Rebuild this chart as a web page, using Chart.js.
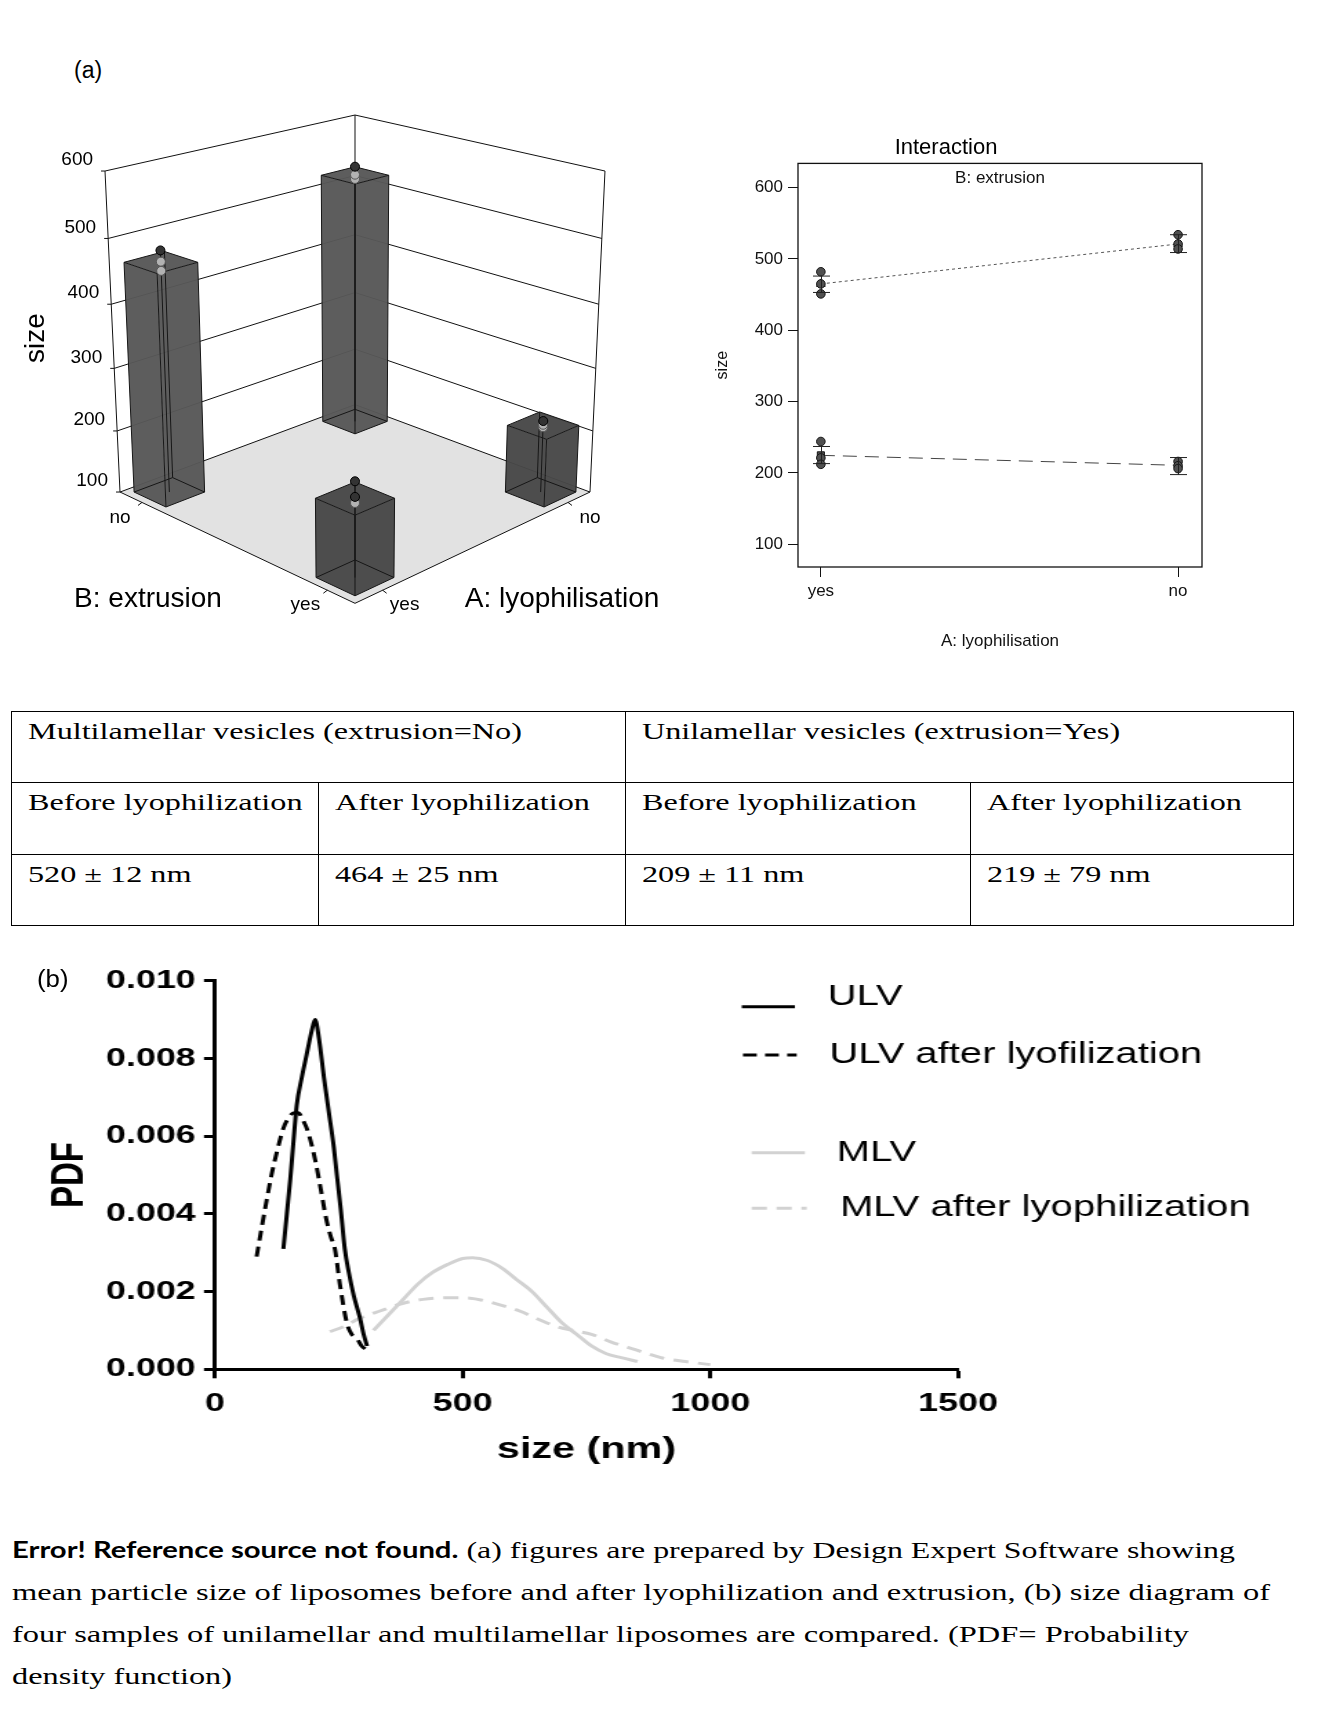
<!DOCTYPE html>
<html><head><meta charset="utf-8">
<script src="https://cdn.jsdelivr.net/npm/chart.js@4.4.0/dist/chart.umd.min.js"></script>
<style>
body{margin:0;background:#fff;}
#page{position:relative;width:1340px;height:1712px;overflow:hidden;background:#fff;font-family:"Liberation Sans",Arial,sans-serif;color:#000;}
canvas{position:absolute;}
.abs{position:absolute;white-space:nowrap;}
.fit{display:inline-block;transform-origin:0 50%;white-space:nowrap;}
#tbl{position:absolute;left:11px;top:711px;width:1282px;border-collapse:collapse;table-layout:fixed;font-family:"Liberation Serif","Times New Roman",serif;font-size:23px;}
#tbl td{border:1.5px solid #000;vertical-align:top;padding:7px 0 0 16px;line-height:26px;overflow:visible;white-space:nowrap;}
#tbl td span{display:inline-block;transform:scaleX(1.40);transform-origin:0 50%;}
.cap{position:absolute;left:12px;font-family:"Liberation Serif","Times New Roman",serif;font-size:24px;line-height:28px;}
.cap b{font-family:Lato,"Open Sans",sans-serif;font-weight:bold;font-size:22px;}
</style></head><body><div id="page">
<div class="abs" style="left:74px;top:57px;font-size:23px;">(a)</div>
<canvas id="c3d" width="700" height="660" style="left:0;top:0;"></canvas>
<canvas id="cint" width="620" height="545" style="left:690px;top:110px;"></canvas>
<table id="tbl"><colgroup><col style="width:307px"><col style="width:307px"><col style="width:345px"><col style="width:323px"></colgroup>
<tbody id="tbody"></tbody></table>
<div id="bwrap" style="position:absolute;left:0;top:950px;width:920px;height:525px;transform:scaleX(1.38);transform-origin:0 0;">
<canvas id="cpdf" width="920" height="525" style="left:0;top:0;"></canvas></div>
<div class="abs" style="left:37px;top:966px;font-size:23px;"><span class="fit" style="transform:scaleX(1.12)">(b)</span></div>
<div class="cap" style="top:1536px;"><span class="fit" data-w="1223"><b>Error! Reference source not found.</b> (a) figures are prepared by Design Expert Software showing</span></div>
<div class="cap" style="top:1578px;"><span class="fit" data-w="1258">mean particle size of liposomes before and after lyophilization and extrusion, (b) size diagram of</span></div>
<div class="cap" style="top:1620px;"><span class="fit" data-w="1177">four samples of unilamellar and multilamellar liposomes are compared. (PDF= Probability</span></div>
<div class="cap" style="top:1662px;"><span class="fit" data-w="220">density function)</span></div>
</div>
<script>
// ================= DATA =================
// factor levels
const factorA = ['yes', 'no'];            // A: lyophilisation
const factorB = ['yes', 'no'];            // B: extrusion
// 3D bar chart cells
const cellA = ['no', 'yes', 'no', 'yes'];
const cellB = ['no', 'no', 'yes', 'yes'];
const cellSize = [520, 464, 209, 219];
const cellObs = [[534, 521, 514], [482, 465, 451], [216, 210, 206], [244, 221, 212]];
const sizeTicks3d = [100, 200, 300, 400, 500, 600];
// interaction plot (x: A level, series: B level)
const intX = [0, 1];
const meanExtNo = [465, 521];       // B: extrusion = no
const meanExtYes = [224.6, 210.6];  // B: extrusion = yes
const obsExtNo = [[482, 465, 451], [534, 521, 514]];
const obsExtYes = [[244, 221, 212], [216, 210, 206]];
const lsdExtNo = [[453, 476], [509, 534]];
const lsdExtYes = [[213, 237], [197.6, 221.5]];
const intYTicks = [100, 200, 300, 400, 500, 600];
// table
const tblHead1 = ['Multilamellar vesicles (extrusion=No)', 'Unilamellar vesicles (extrusion=Yes)'];
const tblHead2 = ['Before lyophilization', 'After lyophilization', 'Before lyophilization', 'After lyophilization'];
const tblVals = ['520 \u00b1 12 nm', '464 \u00b1 25 nm', '209 \u00b1 11 nm', '219 \u00b1 79 nm'];
// PDF chart (b)
const ulvX = [138,145,152,158,165,175,185,195,202,210,220,230,240,246,254,262,270,280,293,300,307];
const ulvY = [.0031,.0040,.0049,.0058,.0068,.0075,.0081,.0087,.0090,.0085,.0075,.0066,.0057,.0050,.0041,.0031,.0025,.0019,.0013,.0009,.0006];
const ulvLyoX = [84,95,105,114,125,138,150,160,168,178,188,202,214,224,234,242,252,266,276,286,296,306];
const ulvLyoY = [.0029,.0037,.0044,.0050,.0056,.0062,.0065,.0066,.0066,.0064,.0061,.0054,.0046,.0039,.0034,.0031,.0022,.0012,.0009,.0008,.0006,.0005];
const mlvX = [320,350,380,410,440,470,500,520,550,580,610,640,670,700,730,760,790,820,853];
const mlvY = [.0010,.0014,.0018,.0022,.0025,.0027,.00285,.00287,.0028,.0026,.0023,.0020,.0016,.0012,.0009,.0006,.0004,.0003,.0002];
const mlvLyoX = [232,260,290,333,380,420,470,515,545,575,615,656,690,723,760,800,850,900,950,1000];
const mlvLyoY = [.00097,.0011,.0013,.0015,.0017,.0018,.00184,.00183,.00176,.00166,.0015,.00127,.0011,.0010,.0009,.0007,.0005,.0003,.0002,.00012];
const pdfSeries = ['ULV', 'ULV after lyofilization', 'MLV', 'MLV after lyophilization'];
const pdfYTicks = [0, 0.002, 0.004, 0.006, 0.008, 0.010];
const sizeTicks = [0, 500, 1000, 1500];

// ================= TABLE =================
(function(){
  const tb = document.getElementById('tbody');
  let r = '<tr style="height:71px">' + tblHead1.map(t => '<td colspan="2"><span>' + t + '</span></td>').join('') + '</tr>';
  r += '<tr style="height:72px">' + tblHead2.map(t => '<td><span>' + t + '</span></td>').join('') + '</tr>';
  r += '<tr style="height:71px">' + tblVals.map(t => '<td><span>' + t + '</span></td>').join('') + '</tr>';
  tb.innerHTML = r;
})();
document.querySelectorAll('.fit[data-w]').forEach(el => {
  const w = el.getBoundingClientRect().width;
  el.style.transform = 'scaleX(' + (parseFloat(el.dataset.w) / w) + ')';
});

Chart.defaults.font.family = '"Liberation Sans", Arial, sans-serif';
Chart.defaults.color = '#000';

// ================= (a) 3D BAR =================
const CAM = {A0: 11.096, B0: -0.9667, C: 0.9424, S: 0.3346, F: 1843.8, CX: 355, CY: 331.4, ZT: 1.9885};
const POS = 0.79, HW = 0.15;
function proj(X, Y, Z) {
  const s = -(X + Y) / Math.SQRT2, t = (X - Y) / Math.SQRT2;
  const depth = CAM.A0 - s * CAM.C - Z * CAM.S;
  const yc = CAM.B0 - s * CAM.S + Z * CAM.C;
  return [CAM.CX + CAM.F * t / depth, CAM.CY - CAM.F * yc / depth];
}
const levelPos = (lv) => lv === 'yes' ? -POS : POS;
const threeD = {
  id: 'threeD',
  afterDraw(chart) {
    const ctx = chart.ctx, ys = chart.scales.y;
    const p0 = ys.getPixelForValue(ys.min), p1 = ys.getPixelForValue(ys.max);
    const zOf = v => (p0 - ys.getPixelForValue(v)) / (p0 - p1) * CAM.ZT;
    const line = (a, b) => { ctx.beginPath(); ctx.moveTo(a[0], a[1]); ctx.lineTo(b[0], b[1]); ctx.stroke(); };
    const poly = (pts, fill) => { ctx.beginPath(); pts.forEach((p, i) => i ? ctx.lineTo(p[0], p[1]) : ctx.moveTo(p[0], p[1])); ctx.closePath(); ctx.fillStyle = fill; ctx.fill(); };
    ctx.save();
    // floor
    poly([proj(-1,-1,0), proj(1,-1,0), proj(1,1,0), proj(-1,1,0)], '#e2e2e2');
    ctx.strokeStyle = '#111'; ctx.lineWidth = 1;
    // wall grid lines
    sizeTicks3d.forEach(v => { const z = zOf(v); line(proj(-1,1,z), proj(1,1,z)); line(proj(1,1,z), proj(1,-1,z)); });
    line(proj(-1,1,0), proj(-1,1,CAM.ZT)); line(proj(1,1,0), proj(1,1,CAM.ZT)); line(proj(1,-1,0), proj(1,-1,CAM.ZT));
    line(proj(-1,1,0), proj(-1,-1,0)); line(proj(-1,-1,0), proj(1,-1,0));
    // axis ticks and labels
    ctx.fillStyle = '#000'; ctx.font = '19px "Liberation Sans", Arial, sans-serif';
    ctx.textAlign = 'right'; ctx.textBaseline = 'middle';
    sizeTicks3d.forEach(v => { const p = proj(-1,1,zOf(v)); line(p, [p[0]-4, p[1]]); ctx.fillText(String(v), p[0]-12, p[1]-11); });
    ctx.textAlign = 'center';
    factorB.forEach(lv => { const p = proj(-1, levelPos(lv), 0); line(p, [p[0]-4, p[1]+3]); ctx.fillText(lv, p[0]-22, p[1]+15); });
    factorA.forEach(lv => { const p = proj(levelPos(lv), -1, 0); line(p, [p[0]+4, p[1]+3]); ctx.fillText(lv, p[0]+22, p[1]+15); });
    ctx.font = '28px "Liberation Sans", Arial, sans-serif';
    ctx.fillText('B: extrusion', 148, 599);
    ctx.fillText('A: lyophilisation', 562, 599);
    ctx.save(); ctx.translate(36, 338); ctx.rotate(-Math.PI/2); ctx.fillText('size', 0, 0); ctx.restore();
    // bars, back to front
    const idx = cellSize.map((v, i) => i).sort((a, b) => (levelPos(cellA[b]) + levelPos(cellB[b])) - (levelPos(cellA[a]) + levelPos(cellB[a])));
    idx.forEach(i => {
      const X = levelPos(cellA[i]), Y = levelPos(cellB[i]);
      const X0 = X - HW, X1 = X + HW, Y0 = Y - HW, Y1 = Y + HW, zt = zOf(cellSize[i]);
      const col = cellB[i] === 'no' ? 'rgba(88,88,88,0.97)' : 'rgba(72,72,72,0.97)';
      poly([proj(X0,Y0,0), proj(X0,Y1,0), proj(X0,Y1,zt), proj(X0,Y0,zt)], col);
      poly([proj(X0,Y0,0), proj(X1,Y0,0), proj(X1,Y0,zt), proj(X0,Y0,zt)], col);
      poly([proj(X0,Y0,zt), proj(X1,Y0,zt), proj(X1,Y1,zt), proj(X0,Y1,zt)], col);
      ctx.strokeStyle = '#161616'; ctx.lineWidth = 1;
      [[X0,Y0],[X1,Y0],[X1,Y1],[X0,Y1]].forEach((c, k, arr) => {
        const n = arr[(k+1) % 4];
        line(proj(c[0],c[1],0), proj(n[0],n[1],0));
        line(proj(c[0],c[1],zt), proj(n[0],n[1],zt));
        line(proj(c[0],c[1],0), proj(c[0],c[1],zt));
      });
      const obs = cellObs[i];
      line(proj(X, Y, zOf(Math.max(...obs))), proj(X, Y, 0));
      obs.slice().sort((a, b) => a - b).forEach(v => {
        const p = proj(X, Y, zOf(v));
        ctx.beginPath(); ctx.arc(p[0], p[1], 4.5, 0, Math.PI*2);
        const above = v > cellSize[i] + 1;
        ctx.fillStyle = above ? '#333' : '#b2b2b2'; ctx.fill();
        ctx.strokeStyle = above ? '#000' : '#555'; ctx.stroke();
      });
    });
    ctx.restore();
  }
};
new Chart(document.getElementById('c3d'), {
  type: 'scatter',
  data: {datasets: [{data: cellSize.map((v, i) => ({x: i, y: v})), pointRadius: 0}]},
  options: {
    responsive: false, animation: false, events: [],
    layout: {padding: {left: 100, right: 100, top: 171, bottom: 168}},
    plugins: {legend: {display: false}, tooltip: {enabled: false}},
    scales: {
      x: {type: 'linear', display: false, min: -1, max: 4},
      y: {min: 100, max: 600, ticks: {display: false, stepSize: 100}, grid: {display: false}, border: {display: false}}
    }
  },
  plugins: [threeD]
});

// ================= (a) INTERACTION =================
const flat = (arr) => arr.flatMap((vals, i) => vals.map(v => ({x: intX[i], y: v})));
const lsdPlugin = {
  id: 'lsd',
  afterDatasetsDraw(chart) {
    const ctx = chart.ctx, xs = chart.scales.x, ys = chart.scales.y, a = chart.chartArea;
    ctx.save();
    ctx.strokeStyle = '#222'; ctx.lineWidth = 1;
    [lsdExtNo, lsdExtYes].forEach(set => set.forEach((r, i) => {
      const x = Math.round(xs.getPixelForValue(intX[i])) + 0.5;
      const y0 = ys.getPixelForValue(r[0]), y1 = ys.getPixelForValue(r[1]);
      ctx.beginPath(); ctx.moveTo(x, y0); ctx.lineTo(x, y1);
      ctx.moveTo(x-8.5, y0); ctx.lineTo(x+8.5, y0); ctx.moveTo(x-8.5, y1); ctx.lineTo(x+8.5, y1); ctx.stroke();
    }));
    ctx.strokeStyle = '#111'; ctx.lineWidth = 1.3;
    ctx.strokeRect(a.left, a.top, a.right - a.left, a.bottom - a.top);
    ctx.fillStyle = '#111'; ctx.font = '17px "Liberation Sans", Arial, sans-serif';
    ctx.textAlign = 'center'; ctx.textBaseline = 'middle';
    ctx.fillText('B: extrusion', (a.left + a.right) / 2, a.top + 15);
    ctx.restore();
  }
};
new Chart(document.getElementById('cint'), {
  type: 'scatter',
  data: {datasets: [
    {data: flat(obsExtNo).concat(flat(obsExtYes)), pointRadius: 4.3, pointBackgroundColor: '#505050', pointBorderColor: '#151515', pointBorderWidth: 1, showLine: false, order: 0},
    {data: intX.map((x, i) => ({x, y: meanExtNo[i]})), pointStyle: 'triangle', pointRadius: 5, pointBackgroundColor: '#505050', pointBorderColor: '#151515', showLine: false, order: 1},
    {data: intX.map((x, i) => ({x, y: meanExtYes[i]})), pointStyle: 'rect', pointRadius: 5, pointBackgroundColor: '#505050', pointBorderColor: '#151515', showLine: false, order: 1},
    {data: intX.map((x, i) => ({x, y: meanExtNo[i]})), showLine: true, borderColor: '#555', borderWidth: 1, borderDash: [3, 3], pointRadius: 0, order: 2},
    {data: intX.map((x, i) => ({x, y: meanExtYes[i]})), showLine: true, borderColor: '#444', borderWidth: 1, borderDash: [14, 8], pointRadius: 0, order: 2}
  ]},
  options: {
    responsive: false, animation: false, events: [],
    layout: {padding: {left: 0, right: 108, top: 0, bottom: 3}},
    plugins: {legend: {display: false}, tooltip: {enabled: false},
      title: {display: true, text: 'Interaction', color: '#000', font: {size: 22, weight: 'normal'}, padding: {top: 25, bottom: 2}}},
    scales: {
      x: {type: 'linear', min: -0.064, max: 1.067,
        afterBuildTicks: s => { s.ticks = intX.map(v => ({value: v})); },
        ticks: {callback: (v, i) => factorA[i], font: {size: 17}, color: '#111', padding: 4, maxRotation: 0, autoSkip: false},
        grid: {drawOnChartArea: false, drawTicks: true, tickLength: 10, color: '#111'}, border: {display: false},
        title: {display: true, text: 'A: lyophilisation', color: '#111', font: {size: 17}, padding: {top: 0, bottom: 0}},
        afterFit: s => { s.height = 85; }},
      y: {min: 68, max: 634,
        afterBuildTicks: s => { s.ticks = intYTicks.map(v => ({value: v})); },
        ticks: {font: {size: 17}, color: '#111', padding: 5},
        grid: {drawOnChartArea: false, drawTicks: true, tickLength: 10, color: '#111'}, border: {display: false},
        title: {display: true, text: 'size', color: '#111', font: {size: 16}, padding: {top: 23, bottom: 0}},
        afterFit: s => { s.width = 108; }}
    }
  },
  plugins: [lsdPlugin]
});

// ================= (b) PDF =================
const legendPos = {lineX: [[537.5, 576], [538.4, 577.3], [544.7, 583.3], [544.7, 584.6]], lineY: [56.7, 105, 202.7, 258.3], textX: [599.8, 601, 606.3, 608.7], textY: [46.7, 105, 203, 258]};
const pdfLegend = {
  id: 'pdfLegend',
  afterDraw(chart) {
    const ctx = chart.ctx;
    ctx.save();
    ctx.font = '29px "Liberation Sans", Arial, sans-serif';
    ctx.textAlign = 'left'; ctx.textBaseline = 'middle';
    chart.data.datasets.forEach((ds, i) => {
      ctx.strokeStyle = ds.borderColor; ctx.lineWidth = ds.borderWidth;
      ctx.setLineDash(ds.borderDash || []);
      ctx.beginPath(); ctx.moveTo(legendPos.lineX[i][0], legendPos.lineY[i]); ctx.lineTo(legendPos.lineX[i][1], legendPos.lineY[i]); ctx.stroke();
      ctx.setLineDash([]);
      ctx.fillStyle = '#000';
      ctx.fillText(ds.label, legendPos.textX[i], legendPos.textY[i]);
    });
    ctx.restore();
  }
};
const mk = (xs, ys) => xs.map((x, i) => ({x, y: ys[i]}));
new Chart(document.getElementById('cpdf'), {
  type: 'line',
  data: {datasets: [
    {label: pdfSeries[0], data: mk(ulvX, ulvY), borderColor: '#000', borderWidth: 3, pointRadius: 0, cubicInterpolationMode: 'monotone', fill: false},
    {label: pdfSeries[1], data: mk(ulvLyoX, ulvLyoY), borderColor: '#000', borderWidth: 3, borderDash: [10, 6], pointRadius: 0, cubicInterpolationMode: 'monotone', fill: false},
    {label: pdfSeries[2], data: mk(mlvX, mlvY), borderColor: '#d2d2d2', borderWidth: 3, pointRadius: 0, cubicInterpolationMode: 'monotone', fill: false},
    {label: pdfSeries[3], data: mk(mlvLyoX, mlvLyoY), borderColor: '#d2d2d2', borderWidth: 3, borderDash: [11, 7], pointRadius: 0, cubicInterpolationMode: 'monotone', fill: false}
  ]},
  options: {
    responsive: false, animation: false, events: [],
    layout: {padding: {left: 0, right: 225.8, top: 30.7, bottom: 5.7}},
    plugins: {legend: {display: false}, tooltip: {enabled: false}},
    scales: {
      x: {type: 'linear', min: 0, max: 1500,
        afterBuildTicks: s => { s.ticks = sizeTicks.map(v => ({value: v})); },
        ticks: {callback: v => String(v), font: {size: 26, weight: 'bold'}, color: '#000', padding: 10, maxRotation: 0, autoSkip: false},
        grid: {drawOnChartArea: false, drawTicks: true, tickLength: 9, tickWidth: 3, color: '#000'},
        border: {display: true, width: 3, color: '#000'},
        title: {display: true, text: 'size (nm)', color: '#000', font: {size: 30, weight: 'bold'}, padding: {top: 0, bottom: 2}},
        afterFit: s => { s.height = 100; }},
      y: {min: 0, max: 0.010,
        afterBuildTicks: s => { s.ticks = pdfYTicks.map(v => ({value: v})); },
        ticks: {callback: v => v.toFixed(3), font: {size: 26, weight: 'bold'}, color: '#000', padding: 6},
        grid: {drawOnChartArea: false, drawTicks: true, tickLength: 8, tickWidth: 3, color: '#000'},
        border: {display: true, width: 3, color: '#000'},
        title: {display: true, text: 'PDF', color: '#000', font: {size: 33, weight: 'bold'}, padding: {top: 31.6, bottom: 0}},
        afterFit: s => { s.width = 155.8; }}
    }
  },
  plugins: [pdfLegend]
});
</script>
</body></html>
